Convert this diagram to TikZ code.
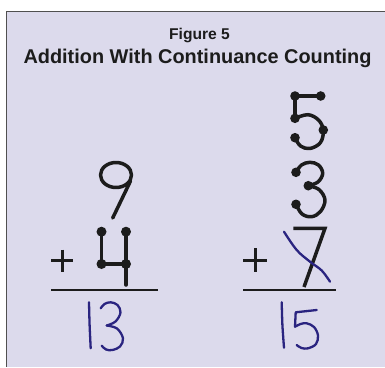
\documentclass[tikz,border=0pt]{standalone}
\usepackage{fontspec}
\setmainfont{Liberation Sans}
\definecolor{lav}{RGB}{220,218,236}
\definecolor{frame}{RGB}{80,80,80}
\definecolor{ink}{RGB}{28,28,28}
\definecolor{pen}{RGB}{42,36,128}
\tikzset{
  digit/.style={draw=ink, line width=3.5pt, line cap=round, line join=round},
  plus/.style={draw=ink, line width=3pt},
  rule/.style={draw=ink, line width=2.3pt},
  touch/.style={fill=ink, draw=none},
  handpen/.style={draw=pen, line width=2.3pt, line cap=round, line join=round},
  titletxt/.style={text=ink, inner sep=0pt, anchor=base, font=\bfseries}
}
\begin{document}
\begin{tikzpicture}[x=1pt, y=-1pt]
\useasboundingbox (0,0) rectangle (385,367);
% panel
\fill[lav] (6,11) rectangle (385,367);
\draw[frame, line width=1.4pt] (385,11.7) -- (6.7,11.7) -- (6.7,367);
% titles
\node[titletxt, font=\bfseries\fontsize{15.6}{18}\selectfont] (fig) at (199.5,39) {Figure 5};
\node[titletxt, font=\bfseries\fontsize{19.9}{23}\selectfont] (title) at (197.5,63) {Addition With Continuance Counting};
% ===== left problem =====
% 9
\draw[digit] (116,175) ellipse [x radius=15.5, y radius=12.5];
\draw[digit] (130.5,181) -- (112.7,218);
% 4
\draw[digit] (101.5,231.7) -- (101.5,264) -- (126,264);
\draw[digit] (126,231.7) -- (126,285);
\foreach \p in {(101.5,231.7),(126,231.7),(101.5,264),(126,264)}
  \fill[touch] \p circle (5);
% plus
\draw[plus] (51.3,260.7) -- (73.3,260.7) (62.3,249.7) -- (62.3,271.7);
% rule
\draw[rule] (51,290) -- (158,290);
% 13
\draw[handpen] plot[smooth] coordinates {(89,302.3) (89.6,325) (90.7,348.3)};
\draw[handpen] plot[smooth, tension=0.6] coordinates {(100.7,308.3) (104.5,304) (110.7,302.3) (117.5,305) (120.5,312.5) (115.5,321.5) (106.7,325.5)};
\draw[handpen] plot[smooth, tension=0.6] coordinates {(106.7,325.5) (117,328.5) (123,338.3) (120,346.5) (112.5,350) (106,349.5) (101.7,345.7)};
% ===== right problem =====
% 5
\draw[digit] (320.7,96) -- (295,96) -- (295,118.3);
\draw[digit] plot[smooth, tension=0.6] coordinates {(295,118.3) (308,114.7) (318.5,120) (323.3,130) (320.5,142.5) (310,148.5) (300.5,146) (295,137.7)};
\foreach \p in {(295,96),(320.7,96),(295,118.3),(323.3,130),(295,137.7)}
  \fill[touch] \p circle (4.8);
% 3
\draw[digit] plot[smooth, tension=0.6] coordinates {(296,172.3) (301.5,165) (310,162.3) (318.5,165) (322.7,173.3) (318,182) (308.3,185.7)};
\draw[digit] plot[smooth, tension=0.6] coordinates {(308.3,185.7) (319,189.5) (325,200) (320.5,211.5) (311.7,216.7) (302,214) (296,204.3)};
\foreach \p in {(296,172.3),(308.3,185.7),(296,204.3)}
  \fill[touch] \p circle (4.8);
% 7
\draw[digit, line cap=butt, line join=miter] (293.3,228.3) -- (325,228.3) -- (304,287);
% pen stroke over 7
\draw[handpen] plot[smooth, tension=0.6] coordinates {(284,231.7) (296.7,250) (310,261.7) (321.7,270.5) (330,281.7)};
% plus
\draw[plus] (243.3,260) -- (266.7,260) (255,248.3) -- (255,271.7);
% rule
\draw[rule] (243.3,290) -- (336,290);
% 15
\draw[handpen] plot[smooth] coordinates {(281.7,302.3) (282.4,325) (284,347.7)};
\draw[handpen] (316.7,310) -- (295.7,312.3) -- (295,326.7);
\draw[handpen] plot[smooth, tension=0.6] coordinates {(295,326.7) (300.5,324) (306.7,323.3) (314,327) (318,335.5) (316,344) (308.3,348.3) (301.5,348) (296.7,345)};
\end{tikzpicture}
\end{document}
